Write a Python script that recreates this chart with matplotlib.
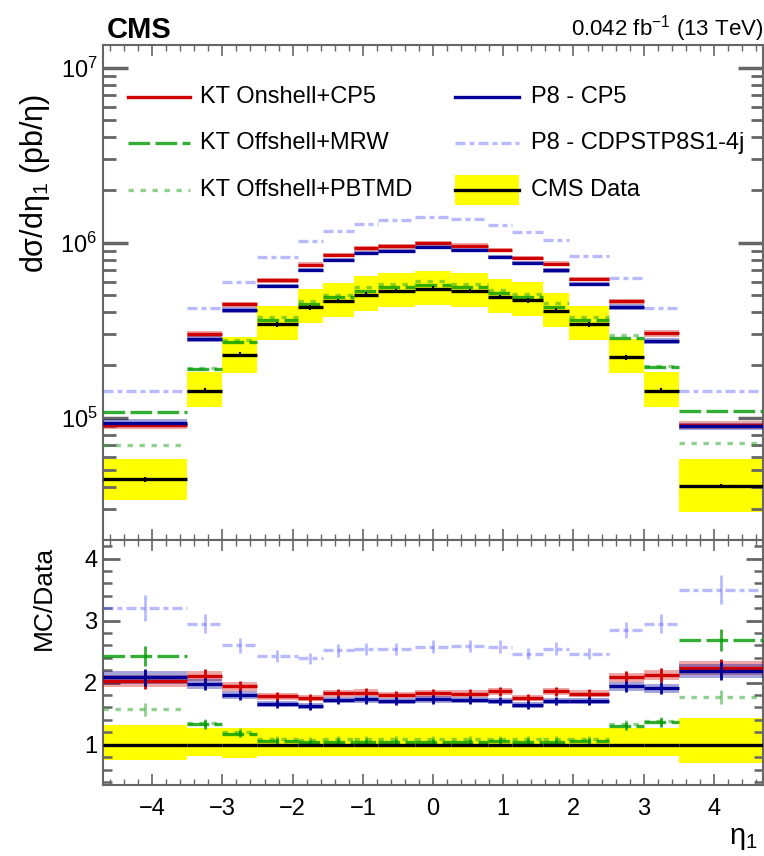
import numpy as np
import matplotlib
matplotlib.use('Agg')
import matplotlib.pyplot as plt
from matplotlib.lines import Line2D
from matplotlib.patches import Rectangle
from matplotlib.ticker import MultipleLocator, LogLocator, NullFormatter

plt.rcParams['font.family'] = ['Liberation Sans', 'DejaVu Sans']
plt.rcParams['mathtext.fontset'] = 'custom'
plt.rcParams['mathtext.rm'] = 'Liberation Sans'
plt.rcParams['mathtext.it'] = 'Liberation Sans'
plt.rcParams['mathtext.bf'] = 'Liberation Sans:bold'

# eta bin edges of the leading jet
edges = [-4.7, -3.5, -3.0, -2.5, -1.93, -1.566, -1.131, -0.783, -0.261,
         0.261, 0.783, 1.131, 1.566, 1.93, 2.5, 3.0, 3.5, 4.7]

# measured cross section (pb) and relative uncertainty
data = [4.45e4, 1.43e5, 2.29e5, 3.42e5, 4.28e5, 4.64e5, 5.06e5, 5.29e5, 5.46e5,
        5.29e5, 4.89e5, 4.68e5, 4.09e5, 3.42e5, 2.21e5, 1.43e5, 4.07e4]
data_err_up = [0.31, 0.27, 0.27, 0.27, 0.27, 0.27, 0.27, 0.27, 0.27,
               0.27, 0.27, 0.27, 0.27, 0.27, 0.27, 0.27, 0.43]
data_err_dn = [0.24, 0.19, 0.21, 0.19, 0.19, 0.19, 0.19, 0.19, 0.19,
               0.19, 0.19, 0.19, 0.19, 0.19, 0.19, 0.19, 0.29]

# MC / data ratios
r_kt_cp5 = [2.03, 2.11, 1.94, 1.78, 1.75, 1.83, 1.84, 1.80, 1.83,
            1.82, 1.86, 1.75, 1.86, 1.82, 2.09, 2.12, 2.23]
r_p8_cp5 = [2.09, 1.98, 1.80, 1.66, 1.63, 1.72, 1.73, 1.70, 1.73,
            1.72, 1.70, 1.64, 1.70, 1.70, 1.94, 1.91, 2.19]
r_p8_cdps = [3.21, 2.95, 2.60, 2.43, 2.39, 2.52, 2.54, 2.54, 2.58,
             2.59, 2.58, 2.47, 2.55, 2.47, 2.85, 2.95, 3.50]
r_kt_mrw = [2.43, 1.33, 1.18, 1.06, 1.04, 1.05, 1.05, 1.05, 1.05,
            1.05, 1.06, 1.05, 1.05, 1.06, 1.30, 1.36, 2.69]
r_kt_pbtmd = [1.57, 1.35, 1.21, 1.10, 1.08, 1.09, 1.10, 1.10, 1.10,
              1.10, 1.10, 1.09, 1.10, 1.10, 1.34, 1.38, 1.77]
# MC relative stat. uncertainty
mc_stat = [0.05, 0.04, 0.035, 0.03, 0.03, 0.03, 0.03, 0.03, 0.03,
           0.03, 0.03, 0.03, 0.03, 0.03, 0.035, 0.04, 0.05]

edges = np.array(edges)
lo, hi = edges[:-1], edges[1:]
centers = 0.5 * (lo + hi)
data = np.array(data)
eu = np.array(data_err_up)
ed = np.array(data_err_dn)
st = np.array(mc_stat)

models = [
    # label, ratio, color, style, lw, alpha, band
    ('KT Offshell+PBTMD', r_kt_pbtmd, '#33aa33', (0, (1.6, 2.0)), 2.4, 0.55, False),
    ('KT Offshell+MRW', r_kt_mrw, '#009900', (0, (6.5, 1.6)), 2.4, 0.8, False),
    ('P8 - CDPSTP8S1-4j', r_p8_cdps, '#6666ff', (0, (3, 1.2, 1.5, 1.2)), 2.4, 0.45, False),
    ('KT Onshell+CP5', r_kt_cp5, '#d00000', '-', 2.4, 1.0, True),
    ('P8 - CP5', r_p8_cp5, '#000099', '-', 2.4, 1.0, True),
]

fig = plt.figure(figsize=(7.64, 8.56), dpi=100)
ax = fig.add_axes([0.1348, 0.3692, 0.864, 0.5782])
rx = fig.add_axes([0.1348, 0.0829, 0.864, 0.2863], sharex=ax)

# data: yellow boxes, horizontal segments only (ROOT style)
ax.stairs(data * (1 + eu), edges, baseline=data * (1 - ed), fill=True,
          color='#ffff00', lw=0, zorder=1)
ax.hlines(data, lo, hi, color='black', lw=2.4, zorder=5)
ax.errorbar(centers, data, yerr=0.03 * data, fmt='none', ecolor='black',
            elinewidth=1.5, zorder=5)
rx.stairs(1 + eu, edges, baseline=1 - ed, fill=True, color='#ffff00', lw=0, zorder=1)
rx.hlines(np.ones_like(data), lo, hi, color='black', lw=2.4, zorder=5)

for lab, r, col, ls, lw, al, band in models:
    r = np.array(r)
    mc = r * data
    if band:
        ax.stairs(mc * (1 + st), edges, baseline=mc * (1 - st), fill=True,
                  color=col, alpha=0.35, lw=0, zorder=3)
        rx.stairs(r * (1 + st), edges, baseline=r * (1 - st), fill=True,
                  color=col, alpha=0.35, lw=0, zorder=3)
    ax.hlines(mc, lo, hi, color=col, lw=lw, linestyles=ls, alpha=al, zorder=4)
    rx.hlines(r, lo, hi, color=col, lw=lw, linestyles=ls, alpha=al, zorder=4)
    rx.errorbar(centers, r, yerr=r * st * 1.3, fmt='none', ecolor=col,
                elinewidth=2.0, alpha=al, zorder=4)

ax.set_yscale('log')
ax.set_ylim(2e4, 1.35e7)
ax.set_xlim(-4.7, 4.7)
rx.set_ylim(0.35, 4.3)

axis_col = '#666666'
for a in (ax, rx):
    for s in a.spines.values():
        s.set_color(axis_col)
        s.set_linewidth(1.5)
    a.tick_params(which='both', direction='in', top=True, right=True,
                  colors=axis_col, labelcolor='black', labelsize=17)
    a.xaxis.set_major_locator(MultipleLocator(1))
    a.xaxis.set_minor_locator(MultipleLocator(0.2))
    a.tick_params(axis='x', which='major', length=8, width=1.2, pad=9)
    a.tick_params(axis='x', which='minor', length=4, width=1.0)

ax.yaxis.set_major_locator(LogLocator(base=10, numticks=10))
ax.yaxis.set_minor_locator(LogLocator(base=10, subs=np.arange(2, 10), numticks=20))
ax.yaxis.set_minor_formatter(NullFormatter())
ax.tick_params(axis='y', which='major', length=18, width=2.5, pad=4)
ax.tick_params(axis='y', which='minor', length=9, width=2.0)
ax.tick_params(axis='x', labelbottom=False)

rx.yaxis.set_major_locator(MultipleLocator(1))
rx.yaxis.set_minor_locator(MultipleLocator(0.2))
rx.tick_params(axis='y', which='major', length=12, width=2.0, pad=4)
rx.tick_params(axis='y', which='minor', length=6.5, width=1.8)
rx.set_xticks([-4, -3, -2, -1, 0, 1, 2, 3, 4])
rx.set_xticklabels(['\u22124', '\u22123', '\u22122', '\u22121', '0', '1', '2', '3', '4'])

# labels
fig.text(35 / 764, 1 - 183 / 856, r'd$\sigma$/d$\eta_{1}$ (pb/$\eta$)', rotation=90,
         ha='center', va='center', fontsize=22)
fig.text(44 / 764, 1 - 598 / 856, 'MC/Data', rotation=90,
         ha='center', va='center', fontsize=19)
fig.text(757 / 764, 1 - 838 / 856, r'$\eta_{1}$', ha='right', va='center', fontsize=21)
fig.text(107 / 764, 1 - 44 / 856, 'CMS', ha='left', va='bottom', fontsize=21,
         fontweight='bold')
fig.text(763 / 764, 1 - 44 / 856, r'0.042 fb$^{-1}$ (13 TeV)', ha='right',
         va='bottom', fontsize=16)

# legend, drawn by hand in axes coordinates
rows = [0.895, 0.802, 0.707]
leg = [
    (0, 0, 'KT Onshell+CP5', '#d00000', '-', 1.0),
    (0, 1, 'KT Offshell+MRW', '#009900', (0, (6.5, 1.6)), 0.8),
    (0, 2, 'KT Offshell+PBTMD', '#33aa33', (0, (1.6, 2.0)), 0.55),
    (1, 0, 'P8 - CP5', '#000099', '-', 1.0),
    (1, 1, 'P8 - CDPSTP8S1-4j', '#6666ff', (0, (3, 1.2, 1.5, 1.2)), 0.45),
]
cols_x = [(0.038, 0.132, 0.147), (0.533, 0.630, 0.648)]
for c, r_i, lab, col, ls, al in leg:
    x0, x1, xt = cols_x[c]
    y = rows[r_i]
    ax.add_line(Line2D([x0, x1], [y, y], transform=ax.transAxes, color=col,
                       ls=ls, lw=2.4, alpha=al))
    ax.text(xt, y, lab, transform=ax.transAxes, va='center', ha='left', fontsize=17)
x0, x1, xt = cols_x[1]
ax.add_patch(Rectangle((x0, rows[2] - 0.03), x1 - x0, 0.06, transform=ax.transAxes,
                       color='#ffff00', lw=0))
ax.add_line(Line2D([x0, x1], [rows[2], rows[2]], transform=ax.transAxes,
                   color='black', lw=2.4))
ax.text(xt, rows[2], 'CMS Data', transform=ax.transAxes, va='center', ha='left',
        fontsize=17)

fig.savefig('out.png', dpi=100)
